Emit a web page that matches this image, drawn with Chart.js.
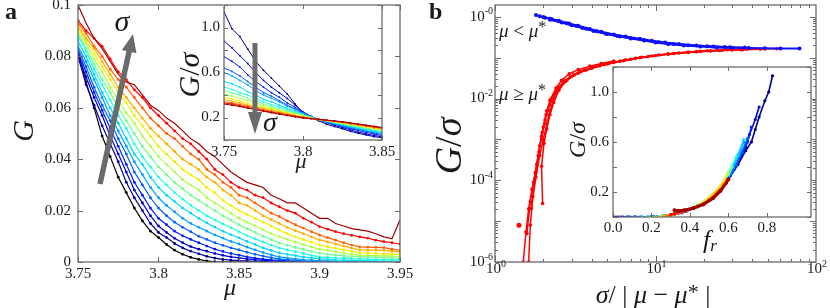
<!DOCTYPE html>
<html>
<head>
<meta charset="utf-8">
<script src="https://cdn.jsdelivr.net/npm/chart.js@4.4.1/dist/chart.umd.min.js"></script>
<style>
  html, body { margin: 0; padding: 0; background: #fff; }
  #fig { position: relative; width: 830px; height: 308px; overflow: hidden; background: #fff; }
  #fig canvas { position: absolute; }
</style>
</head>
<body>
<div id="fig">
  <canvas id="mainA" width="415" height="308" style="left:0;top:0"></canvas>
  <canvas id="mainB" width="415" height="308" style="left:415px;top:0"></canvas>
  <canvas id="insetA" width="235" height="175" style="left:170px;top:0"></canvas>
  <canvas id="insetB" width="255" height="195" style="left:565px;top:60px"></canvas>
</div>
<script>
const SERIF = '"Liberation Serif", "Times New Roman", serif';
const FRAME = '#6a6a6a';
const INK = '#1a1a1a';

// ---- panel a: G vs mu, one curve per sigma (black = smallest sigma) ----
const muA = [3.75, 3.755, 3.76, 3.765, 3.77, 3.775, 3.78, 3.785, 3.79, 3.795, 3.8, 3.805, 3.81, 3.815, 3.82,
  3.825, 3.83, 3.835, 3.84, 3.845, 3.85, 3.855, 3.86, 3.865, 3.87, 3.875, 3.88, 3.885, 3.89, 3.895, 3.9,
  3.905, 3.91, 3.915, 3.92, 3.925, 3.93, 3.935, 3.94, 3.945, 3.95];
const gBlack = [0.082, 0.070, 0.060, 0.049, 0.041, 0.033, 0.027, 0.021, 0.016, 0.012, 0.0095, 0.0068, 0.0046, 0.003, 0.0018,
  0.001, 0.0004, 0.0001, 0, 0, 0, 0, 0, 0, 0, 0, 0, 0, 0, 0, 0, 0, 0, 0, 0, 0, 0, 0, 0, 0, 0];
const gS1 = [0.080, 0.069, 0.061, 0.053, 0.046, 0.039, 0.031, 0.025, 0.020, 0.015, 0.0115, 0.0095, 0.0072, 0.0055, 0.0042,
  0.0032, 0.0022, 0.0015, 0.001, 0.0007, 0.0005, 0.0004, 0.0003, 0.0002, 0.0001, 0.0001, 0, 0, 0, 0, 0, 0, 0, 0, 0, 0, 0, 0, 0, 0, 0];
const gS2 = [0.081, 0.072, 0.064, 0.057, 0.049, 0.042, 0.035, 0.028, 0.023, 0.018, 0.014, 0.0115, 0.0092, 0.0075, 0.006,
  0.005, 0.0042, 0.0033, 0.0026, 0.002, 0.0016, 0.0012, 0.0009, 0.0006, 0.0004, 0.0003, 0.0002, 0.0001, 0.0001, 0, 0,
  0, 0, 0, 0, 0, 0, 0, 0, 0, 0];
const gS3 = [0.082, 0.074, 0.066, 0.059, 0.052, 0.045, 0.038, 0.031, 0.026, 0.021, 0.017, 0.0145, 0.012, 0.0102, 0.0088,
  0.0075, 0.0062, 0.005, 0.0041, 0.0033, 0.0027, 0.002, 0.0015, 0.0011, 0.0008, 0.0006, 0.0004, 0.0003, 0.0002, 0.0001, 0.0001,
  0, 0, 0, 0, 0, 0, 0, 0, 0, 0];
const gS4 = [0.083, 0.076, 0.068, 0.061, 0.055, 0.048, 0.042, 0.035, 0.030, 0.025, 0.021, 0.018, 0.0155, 0.0135, 0.0118,
  0.010, 0.0088, 0.0075, 0.0065, 0.0055, 0.0047, 0.0038, 0.003, 0.0023, 0.0017, 0.0012, 0.0009, 0.0006, 0.0004, 0.0003, 0.0002,
  0.0001, 0.0001, 0, 0, 0, 0, 0, 0, 0, 0];
const gS5 = [0.084, 0.078, 0.071, 0.064, 0.057, 0.051, 0.045, 0.039, 0.034, 0.029, 0.025, 0.022, 0.0195, 0.017, 0.015,
  0.0135, 0.012, 0.0105, 0.0093, 0.008, 0.007, 0.0058, 0.0047, 0.0037, 0.0028, 0.002, 0.0016, 0.0012, 0.0009, 0.0007, 0.0005,
  0.0004, 0.0003, 0.0002, 0.0001, 0.0001, 0.0001, 0, 0, 0, 0];
const gS6 = [0.086, 0.080, 0.073, 0.066, 0.060, 0.054, 0.048, 0.042, 0.038, 0.033, 0.029, 0.026, 0.0235, 0.021, 0.019,
  0.017, 0.0152, 0.0136, 0.012, 0.0106, 0.0094, 0.008, 0.0068, 0.0055, 0.0045, 0.0035, 0.003, 0.0025, 0.002, 0.0016, 0.0012,
  0.001, 0.0008, 0.0007, 0.0006, 0.0005, 0.0004, 0.0004, 0.0003, 0.0003, 0.0003];
const gS7 = [0.088, 0.082, 0.075, 0.069, 0.063, 0.057, 0.052, 0.046, 0.041, 0.037, 0.033, 0.030, 0.027, 0.0245, 0.022,
  0.020, 0.018, 0.0163, 0.0148, 0.0133, 0.0118, 0.0103, 0.009, 0.0078, 0.0066, 0.0055, 0.0047, 0.004, 0.0033, 0.0026, 0.002,
  0.0018, 0.0016, 0.0015, 0.0013, 0.0012, 0.0011, 0.001, 0.0009, 0.0008, 0.0008];
const gS8 = [0.089, 0.083, 0.077, 0.071, 0.066, 0.060, 0.055, 0.050, 0.045, 0.041, 0.037, 0.034, 0.031, 0.0285, 0.026,
  0.024, 0.022, 0.020, 0.018, 0.0163, 0.0145, 0.013, 0.0115, 0.010, 0.0087, 0.0074, 0.0065, 0.0057, 0.0049, 0.0041, 0.0034,
  0.003, 0.0027, 0.0024, 0.0022, 0.002, 0.0019, 0.0018, 0.0017, 0.0016, 0.0015];
const gS9 = [0.090, 0.085, 0.079, 0.074, 0.068, 0.063, 0.058, 0.054, 0.049, 0.045, 0.041, 0.038, 0.035, 0.032, 0.030,
  0.028, 0.025, 0.023, 0.021, 0.019, 0.017, 0.0155, 0.014, 0.0125, 0.011, 0.0099, 0.0088, 0.0078, 0.0068, 0.0058, 0.005,
  0.0045, 0.004, 0.0035, 0.003, 0.0027, 0.0026, 0.0025, 0.0024, 0.0023, 0.0022];
const gS10 = [0.091, 0.086, 0.081, 0.076, 0.071, 0.066, 0.062, 0.057, 0.053, 0.049, 0.045, 0.042, 0.039, 0.036, 0.034,
  0.032, 0.029, 0.027, 0.024, 0.022, 0.020, 0.0185, 0.017, 0.0155, 0.014, 0.0125, 0.011, 0.0098, 0.0088, 0.0077, 0.0066,
  0.006, 0.0053, 0.0047, 0.0041, 0.0036, 0.0035, 0.0033, 0.0032, 0.0031, 0.003];
const gS11 = [0.092, 0.087, 0.083, 0.078, 0.073, 0.068, 0.064, 0.060, 0.056, 0.052, 0.049, 0.046, 0.043, 0.040, 0.038,
  0.036, 0.033, 0.031, 0.028, 0.026, 0.023, 0.022, 0.020, 0.018, 0.0165, 0.015, 0.0135, 0.0122, 0.011, 0.0098, 0.0086,
  0.0078, 0.007, 0.0062, 0.0054, 0.0047, 0.0046, 0.0046, 0.0045, 0.0042, 0.0039];
const gS12 = [0.093, 0.089, 0.084, 0.080, 0.075, 0.071, 0.068, 0.064, 0.060, 0.056, 0.053, 0.050, 0.048, 0.045, 0.042,
  0.040, 0.036, 0.034, 0.031, 0.029, 0.026, 0.025, 0.023, 0.021, 0.019, 0.0177, 0.016, 0.0145, 0.0132, 0.0118, 0.0105,
  0.0095, 0.0085, 0.0075, 0.0066, 0.0059, 0.0058, 0.0057, 0.0056, 0.005, 0.0045];
const gS13 = [0.094, 0.090, 0.087, 0.084, 0.079, 0.074, 0.071, 0.067, 0.064, 0.060, 0.057, 0.054, 0.051, 0.048, 0.046,
  0.043, 0.040, 0.036, 0.034, 0.031, 0.029, 0.028, 0.026, 0.025, 0.023, 0.0215, 0.020, 0.019, 0.017, 0.0155, 0.0138,
  0.0128, 0.0118, 0.011, 0.0104, 0.0098, 0.0093, 0.0085, 0.0079, 0.0075, 0.007];
const gS14 = [0.100, 0.093, 0.087, 0.083, 0.078, 0.073, 0.070, 0.069, 0.065, 0.061, 0.059, 0.056, 0.054, 0.051, 0.048,
  0.046, 0.043, 0.041, 0.038, 0.035, 0.033, 0.031, 0.030, 0.029, 0.026, 0.0246, 0.023, 0.023, 0.021, 0.019, 0.017,
  0.017, 0.015, 0.014, 0.013, 0.0125, 0.012, 0.011, 0.0098, 0.009, 0.0164];
const sigmaColors = ['#000090', '#0000d0', '#0020ff', '#0060ff', '#00a0ff', '#00d8ff', '#20ffe0',
  '#70ff90', '#b0ff50', '#f0f000', '#ffb000', '#ff6000', '#ff0000', '#a00000'];
const xTicksA = ['3.75', '3.8', '3.85', '3.9', '3.95'];
const yTicksA = ['0', '0.02', '0.04', '0.06', '0.08', '0.1'];

// ---- inset a: G/sigma vs mu ----
const muInsetA = [3.75, 3.755, 3.76, 3.765, 3.77, 3.775, 3.78, 3.785, 3.79, 3.795, 3.8, 3.805, 3.81, 3.815, 3.82,
  3.825, 3.83, 3.835, 3.84, 3.845, 3.85];
const gsS1 = [1.14, 0.99, 0.92, 0.81, 0.70, 0.62, 0.55, 0.48, 0.41, 0.32, 0.24, 0.20, 0.17, 0.14, 0.12, 0.10, 0.077, 0.06, 0.045, 0.03, 0.02];
const gsS2 = [0.88, 0.82, 0.75, 0.68, 0.60, 0.53, 0.47, 0.42, 0.37, 0.31, 0.25, 0.21, 0.18, 0.155, 0.13, 0.11, 0.09, 0.07, 0.055, 0.04, 0.03];
const gsS3 = [0.74, 0.70, 0.65, 0.58, 0.52, 0.47, 0.42, 0.38, 0.33, 0.29, 0.245, 0.21, 0.18, 0.16, 0.14, 0.12, 0.10, 0.085, 0.068, 0.053, 0.04];
const gsS4 = [0.64, 0.61, 0.57, 0.52, 0.47, 0.42, 0.39, 0.35, 0.31, 0.275, 0.24, 0.21, 0.18, 0.16, 0.142, 0.125, 0.108, 0.092, 0.077, 0.063, 0.05];
const gsS5 = [0.60, 0.57, 0.53, 0.49, 0.44, 0.40, 0.37, 0.34, 0.30, 0.27, 0.235, 0.205, 0.18, 0.163, 0.146, 0.13, 0.114, 0.099, 0.085, 0.071, 0.058];
const gsS6 = [0.52, 0.50, 0.47, 0.43, 0.40, 0.36, 0.34, 0.31, 0.28, 0.255, 0.23, 0.205, 0.182, 0.166, 0.15, 0.135, 0.12, 0.105, 0.092, 0.079, 0.066];
const gsS7 = [0.47, 0.45, 0.42, 0.40, 0.37, 0.34, 0.315, 0.295, 0.27, 0.245, 0.225, 0.2, 0.182, 0.168, 0.154, 0.14, 0.126, 0.113, 0.1, 0.087, 0.074];
const gsS8 = [0.44, 0.42, 0.40, 0.37, 0.345, 0.32, 0.30, 0.28, 0.26, 0.24, 0.22, 0.2, 0.183, 0.17, 0.157, 0.145, 0.132, 0.12, 0.107, 0.095, 0.082];
const gsS9 = [0.41, 0.39, 0.37, 0.35, 0.33, 0.305, 0.285, 0.265, 0.25, 0.232, 0.215, 0.198, 0.183, 0.171, 0.16, 0.148, 0.136, 0.124, 0.112, 0.1, 0.088];
const gsS10 = [0.38, 0.365, 0.345, 0.325, 0.31, 0.29, 0.275, 0.257, 0.24, 0.225, 0.21, 0.195, 0.183, 0.172, 0.162, 0.152, 0.14, 0.129, 0.117, 0.105, 0.094];
const gsS11 = [0.36, 0.345, 0.33, 0.31, 0.295, 0.28, 0.265, 0.25, 0.235, 0.22, 0.205, 0.193, 0.182, 0.173, 0.164, 0.155, 0.144, 0.133, 0.121, 0.11, 0.099];
const gsS12 = [0.34, 0.33, 0.315, 0.30, 0.285, 0.27, 0.255, 0.24, 0.226, 0.213, 0.20, 0.19, 0.182, 0.174, 0.166, 0.158, 0.148, 0.137, 0.126, 0.115, 0.104];
const gsS13 = [0.33, 0.32, 0.305, 0.29, 0.275, 0.26, 0.247, 0.235, 0.222, 0.21, 0.20, 0.191, 0.183, 0.175, 0.168, 0.16, 0.15, 0.139, 0.129, 0.118, 0.108];
const gsS14 = [0.32, 0.31, 0.297, 0.283, 0.27, 0.255, 0.243, 0.23, 0.218, 0.206, 0.195, 0.19, 0.184, 0.177, 0.17, 0.162, 0.152, 0.142, 0.132, 0.122, 0.112];
const xTicksInsetA = ['3.75', '3.8', '3.85'];
const yTicksInset = ['', '0.2', '', '0.6', '', '1.0', ''];

// ---- panel b: G/sigma vs sigma/|mu - mu*| (log-log), pairs [x, y] ----
const blueBand1 = [[1.8, 1.1], [1.9, 1.03], [2.05, 0.95], [2.25, 0.88], [2.5, 0.78], [2.8, 0.69], [3.2, 0.6], [3.7, 0.51],
  [4.3, 0.44], [5, 0.38], [6, 0.33], [7, 0.295], [8.5, 0.262], [10, 0.236], [12, 0.214], [15, 0.197], [19, 0.186],
  [24, 0.178], [30, 0.174], [38, 0.171], [48, 0.169], [60, 0.168], [79, 0.168]];
const blueBand2 = [[2.0, 0.98], [2.2, 0.9], [2.5, 0.8], [2.9, 0.68], [3.3, 0.6], [3.9, 0.5], [4.6, 0.43], [5.5, 0.37],
  [6.5, 0.33], [8, 0.29], [9.5, 0.26], [11.5, 0.235], [14, 0.215], [18, 0.198], [23, 0.188], [29, 0.18], [36, 0.176]];
const blueBand3 = [[2.2, 0.84], [2.6, 0.72], [3.0, 0.62], [3.5, 0.53], [4.1, 0.45], [4.9, 0.385], [5.8, 0.34], [7, 0.3],
  [8.5, 0.265], [10.5, 0.238], [13, 0.215], [16, 0.2], [21, 0.19], [27, 0.182]];
const redBand1 = [[1.5, 1e-6], [1.56, 5.4e-6], [1.62, 2e-5], [1.7, 6e-5], [1.78, 1.5e-4], [1.86, 4e-4], [1.95, 1.2e-3],
  [2.05, 3e-3], [2.2, 7e-3], [2.4, 0.014], [2.65, 0.024], [2.95, 0.034], [3.4, 0.046], [4, 0.057], [4.8, 0.068],
  [6, 0.082], [7.5, 0.096], [9.5, 0.11], [12, 0.124], [16, 0.137], [21, 0.147], [28, 0.155], [37, 0.16], [48, 0.163], [57, 0.165]];
const redBand2 = [[1.58, 5e-6], [1.66, 3e-5], [1.74, 9e-5], [1.82, 2.5e-4], [1.9, 7e-4], [2.0, 2e-3], [2.1, 5e-3],
  [2.25, 0.01], [2.45, 0.018], [2.7, 0.027], [3.1, 0.039], [3.6, 0.05], [4.3, 0.062], [5.2, 0.074], [6.5, 0.088],
  [8.2, 0.102], [10.5, 0.116], [14, 0.13], [19, 0.142], [26, 0.151], [35, 0.157]];
const redBand3 = [[1.68, 2e-5], [1.8, 1.2e-4], [1.9, 4e-4], [2.0, 1e-3], [2.1, 2.4e-3], [2.2, 5e-3], [2.35, 0.01],
  [2.55, 0.019], [2.8, 0.028], [3.3, 0.042], [4, 0.055], [5, 0.07], [6.3, 0.084], [8, 0.099], [10, 0.113], [13, 0.126],
  [18, 0.14], [25, 0.15], [34, 0.156], [45, 0.16]];
const redBand4 = [[1.98, 2.7e-5], [1.95, 2.2e-4], [2.02, 8e-4], [2.1, 1.8e-3], [2.2, 4e-3], [2.32, 8e-3], [2.5, 0.016],
  [2.75, 0.026], [3.1, 0.037], [3.7, 0.05], [4.5, 0.063], [5.5, 0.076], [7, 0.091], [9, 0.106], [12, 0.121], [16, 0.134],
  [22, 0.146], [30, 0.154]];
const redBand5 = [[1.62, 1e-6], [1.66, 8e-6], [1.72, 4e-5], [1.8, 1.6e-4], [1.88, 5e-4], [1.97, 1.5e-3], [2.08, 4e-3],
  [2.2, 9e-3], [2.4, 0.018], [2.6, 0.028], [2.9, 0.04], [3.3, 0.051], [3.9, 0.062], [4.6, 0.072], [5.5, 0.083]];
const redOutlier = [[1.41, 7.9e-6]];
const xDecadesB = [1, 10, 100];
const xExpB = ['0', '1', '2'];
const yDecadesB = [1e-6, 1e-4, 1e-2, 1];
const yExpB = ['-6', '-4', '-2', '-0'];

// ---- inset b: G/sigma vs f_r, pairs [f, G/sigma] ----
const frS1 = [[0.01, 0], [0.03, 0], [0.05, 0], [0.07, 0], [0.09, 0], [0.11, 0], [0.2, 0.003], [0.3, 0.015], [0.36, 0.035],
  [0.42, 0.07], [0.48, 0.12], [0.54, 0.19], [0.6, 0.3], [0.65, 0.42], [0.69, 0.53], [0.72, 0.6], [0.74, 0.7], [0.76, 0.8],
  [0.79, 0.93], [0.81, 1.0], [0.83, 1.13]];
const frS2 = [[0.02, 0], [0.05, 0], [0.08, 0], [0.11, 0], [0.14, 0], [0.25, 0.006], [0.32, 0.022], [0.38, 0.045],
  [0.44, 0.085], [0.5, 0.14], [0.56, 0.22], [0.61, 0.33], [0.66, 0.47], [0.69, 0.56], [0.71, 0.66], [0.74, 0.78], [0.76, 0.88]];
const frS3 = [[0.04, 0], [0.08, 0], [0.12, 0], [0.15, 0], [0.27, 0.01], [0.34, 0.03], [0.4, 0.06], [0.46, 0.1],
  [0.52, 0.16], [0.58, 0.26], [0.63, 0.38], [0.67, 0.5], [0.7, 0.6], [0.72, 0.72]];
const frS4 = [[0.08, 0], [0.12, 0], [0.15, 0], [0.18, 0], [0.28, 0.012], [0.35, 0.035], [0.42, 0.07], [0.48, 0.12],
  [0.54, 0.19], [0.6, 0.3], [0.64, 0.41], [0.67, 0.52], [0.7, 0.63]];
const frS5 = [[0.12, 0], [0.15, 0], [0.18, 0], [0.3, 0.018], [0.37, 0.045], [0.44, 0.085], [0.5, 0.14], [0.56, 0.23],
  [0.61, 0.35], [0.65, 0.48], [0.68, 0.6]];
const frS6 = [[0.15, 0], [0.18, 0], [0.2, 0], [0.3, 0.02], [0.37, 0.048], [0.44, 0.09], [0.5, 0.15], [0.56, 0.24],
  [0.61, 0.37], [0.65, 0.5], [0.68, 0.62]];
const frS7 = [[0.18, 0], [0.2, 0], [0.22, 0], [0.3, 0.02], [0.37, 0.05], [0.44, 0.095], [0.5, 0.155], [0.56, 0.25],
  [0.6, 0.35], [0.64, 0.48]];
const frS8 = [[0.2, 0], [0.22, 0], [0.24, 0.002], [0.31, 0.025], [0.38, 0.055], [0.45, 0.1], [0.51, 0.165], [0.56, 0.25],
  [0.6, 0.34], [0.62, 0.4]];
const frS9 = [[0.22, 0], [0.24, 0.002], [0.26, 0.004], [0.32, 0.028], [0.39, 0.06], [0.46, 0.11], [0.52, 0.18],
  [0.57, 0.27], [0.6, 0.36]];
const frS10 = [[0.24, 0.002], [0.26, 0.004], [0.28, 0.008], [0.34, 0.033], [0.4, 0.065], [0.46, 0.11], [0.52, 0.18],
  [0.57, 0.27], [0.59, 0.33]];
const frS11 = [[0.26, 0.005], [0.28, 0.008], [0.3, 0.014], [0.36, 0.04], [0.42, 0.072], [0.48, 0.12], [0.53, 0.19],
  [0.57, 0.26], [0.59, 0.3]];
const frS12 = [[0.28, 0.01], [0.3, 0.015], [0.32, 0.022], [0.38, 0.048], [0.44, 0.08], [0.5, 0.13], [0.54, 0.19], [0.58, 0.26]];
const frS13 = [[0.3, 0.02], [0.32, 0.028], [0.35, 0.04], [0.4, 0.06], [0.45, 0.09], [0.5, 0.135], [0.55, 0.2], [0.59, 0.27]];
const frS14 = [[0.32, 0.055], [0.34, 0.05], [0.37, 0.055], [0.42, 0.072], [0.47, 0.1], [0.52, 0.15], [0.56, 0.21], [0.6, 0.3]];
const xTicksInsetB = ['0.0', '0.2', '0.4', '0.6', '0.8'];

Chart.defaults.font.family = SERIF;
Chart.defaults.color = INK;
Chart.defaults.animation = false;

// ---------- drawing helpers ----------
// parts: [text, size, style, dy]
function put(ctx, parts, x, y, align) {
  ctx.save();
  ctx.textBaseline = 'middle';
  ctx.textAlign = 'left';
  ctx.fillStyle = INK;
  const fnt = p => `${p[2] || ''} ${p[1]}px ${SERIF}`;
  let w = 0;
  for (const p of parts) { ctx.font = fnt(p); w += ctx.measureText(p[0]).width; }
  let cx = align === 'center' ? x - w / 2 : align === 'right' ? x - w : x;
  for (const p of parts) {
    ctx.font = fnt(p);
    ctx.fillText(p[0], cx, y + (p[3] || 0));
    cx += ctx.measureText(p[0]).width;
  }
  ctx.restore();
}

function putUp(ctx, parts, x, y) {
  ctx.save();
  ctx.translate(x, y);
  ctx.rotate(-Math.PI / 2);
  put(ctx, parts, 0, 0, 'center');
  ctx.restore();
}

function frame(chart, xMarks, yMarks) {
  const {ctx, chartArea: a} = chart;
  const sx = chart.scales.x, sy = chart.scales.y;
  ctx.save();
  ctx.strokeStyle = FRAME;
  ctx.lineWidth = 1;
  ctx.beginPath();
  for (const [v, len] of xMarks) {
    const p = Math.round(sx.getPixelForValue(v)) + 0.5;
    ctx.moveTo(p, a.bottom); ctx.lineTo(p, a.bottom - len);
    ctx.moveTo(p, a.top); ctx.lineTo(p, a.top + len);
  }
  for (const [v, len] of yMarks) {
    const p = Math.round(sy.getPixelForValue(v)) + 0.5;
    ctx.moveTo(a.left, p); ctx.lineTo(a.left + len, p);
    ctx.moveTo(a.right, p); ctx.lineTo(a.right - len, p);
  }
  ctx.stroke();
  ctx.lineWidth = 1.3;
  ctx.strokeRect(a.left, a.top, a.right - a.left, a.bottom - a.top);
  ctx.restore();
}

function logMarks(lo, hi, min, max) {
  const out = [];
  for (let d = lo; d <= hi; d++) {
    for (let k = 1; k <= 9; k++) {
      const v = k * Math.pow(10, d);
      if (v >= min * 0.999 && v <= max * 1.001) out.push([v, k === 1 ? 6 : 3]);
    }
  }
  return out;
}

function arrow(ctx, x0, y0, x1, y1, w, hl, hw) {
  const L = Math.hypot(x1 - x0, y1 - y0);
  const ux = (x1 - x0) / L, uy = (y1 - y0) / L, nx = -uy, ny = ux;
  const bx = x1 - ux * hl, by = y1 - uy * hl;
  ctx.save();
  ctx.fillStyle = '#6b6b6b';
  ctx.beginPath();
  ctx.moveTo(x0 + nx * w / 2, y0 + ny * w / 2);
  ctx.lineTo(bx + nx * w / 2, by + ny * w / 2);
  ctx.lineTo(bx + nx * hw / 2, by + ny * hw / 2);
  ctx.lineTo(x1, y1);
  ctx.lineTo(bx - nx * hw / 2, by - ny * hw / 2);
  ctx.lineTo(bx - nx * w / 2, by - ny * w / 2);
  ctx.lineTo(x0 - nx * w / 2, y0 - ny * w / 2);
  ctx.closePath();
  ctx.fill();
  ctx.restore();
}

function curve(data, color, extra) {
  return Object.assign({
    data, borderColor: color, backgroundColor: color, borderWidth: 1.2,
    pointRadius: 1.4, pointBorderWidth: 0, pointHoverRadius: 0, tension: 0
  }, extra || {});
}
const xy = pairs => pairs.map(p => ({x: p[0], y: p[1]}));

const hidden = {display: false, drawTicks: false};
const tickFont = {family: SERIF, size: 15};
const whiteArea = {
  id: 'whiteArea',
  beforeDraw(chart) {
    const a = chart.chartArea;
    chart.ctx.save();
    chart.ctx.fillStyle = '#fff';
    chart.ctx.fillRect(a.left - 1, a.top - 1, a.right - a.left + 2, a.bottom - a.top + 2);
    chart.ctx.restore();
  }
};

// ---------- panel a ----------
const curvesA = [gS14, gS13, gS12, gS11, gS10, gS9, gS8, gS7, gS6, gS5, gS4, gS3, gS2, gS1];
new Chart(document.getElementById('mainA'), {
  type: 'line',
  data: {
    labels: muA,
    datasets: curvesA.map((g, i) => curve(g, sigmaColors[13 - i], i === 0 ? {pointRadius: 0} : {}))
      .concat([curve(gBlack, '#000000')])
  },
  options: {
    responsive: false,
    layout: {padding: {left: 0, top: 5, right: 15, bottom: 0}},
    plugins: {legend: {display: false}, tooltip: {enabled: false}},
    scales: {
      x: {
        type: 'linear', min: 3.75, max: 3.95, grid: hidden, border: {display: false},
        ticks: {stepSize: 0.05, padding: 3, autoSkip: false, maxRotation: 0, font: tickFont, color: INK,
          callback: v => xTicksA[Math.round((v - 3.75) / 0.05)] ?? ''},
        afterFit: s => { s.height = 46; s.paddingLeft = 0; s.paddingRight = 0; }
      },
      y: {
        min: 0, max: 0.1, grid: hidden, border: {display: false},
        ticks: {stepSize: 0.02, padding: 7, autoSkip: false, font: tickFont, color: INK,
          callback: v => yTicksA[Math.round(v / 0.02)] ?? ''},
        afterFit: s => { s.width = 78; s.paddingTop = 0; s.paddingBottom = 0; }
      }
    }
  },
  plugins: [{
    id: 'decorA',
    afterDraw(chart) {
      const ctx = chart.ctx;
      frame(chart, chart.scales.x.ticks.map(t => [t.value, 5]), chart.scales.y.ticks.map(t => [t.value, 5]));
      put(ctx, [['a', 24, 'bold']], 5, 13, 'left');
      putUp(ctx, [['G', 30, 'italic']], 25, 131);
      put(ctx, [['μ', 24, 'italic']], 230, 289, 'center');
      arrow(ctx, 100, 184, 133, 34, 5.5, 18, 15);
      put(ctx, [['σ', 30, 'italic']], 122, 23, 'center');
    }
  }]
});

// ---------- inset a ----------
const curvesInsetA = [gsS14, gsS13, gsS12, gsS11, gsS10, gsS9, gsS8, gsS7, gsS6, gsS5, gsS4, gsS3, gsS2, gsS1];
new Chart(document.getElementById('insetA'), {
  type: 'line',
  data: {
    labels: muInsetA,
    datasets: curvesInsetA.map((g, i) => curve(g, sigmaColors[13 - i], {borderWidth: 1, pointRadius: 0.9}))
  },
  options: {
    responsive: false,
    layout: {padding: {left: 0, top: 5, right: 23, bottom: 0}},
    plugins: {legend: {display: false}, tooltip: {enabled: false}},
    scales: {
      x: {
        type: 'linear', min: 3.75, max: 3.85, grid: hidden, border: {display: false},
        ticks: {stepSize: 0.05, padding: 3, autoSkip: false, maxRotation: 0, font: tickFont, color: INK,
          callback: v => xTicksInsetA[Math.round((v - 3.75) / 0.05)] ?? ''},
        afterFit: s => { s.height = 35; s.paddingLeft = 0; s.paddingRight = 0; }
      },
      y: {
        min: 0, max: 1.2, grid: hidden, border: {display: false},
        ticks: {stepSize: 0.2, padding: 4, autoSkip: false, font: tickFont, color: INK,
          callback: v => yTicksInset[Math.round(v / 0.2)] ?? ''},
        afterFit: s => { s.width = 54; s.paddingTop = 0; s.paddingBottom = 0; }
      }
    }
  },
  plugins: [whiteArea, {
    id: 'decorInsetA',
    afterDraw(chart) {
      const ctx = chart.ctx;
      frame(chart, chart.scales.x.ticks.map(t => [t.value, 4]), chart.scales.y.ticks.map(t => [t.value, 4]));
      putUp(ctx, [['G', 30, 'italic'], ['/', 30, ''], ['σ', 30, 'italic']], 21, 75);
      put(ctx, [['μ', 22, 'italic']], 131, 162, 'center');
      arrow(ctx, 85, 43, 85, 134, 5, 22, 14);
      put(ctx, [['σ', 28, 'italic']], 100, 124, 'center');
    }
  }]
});

// ---------- panel b ----------
const redStyle = {borderWidth: 1.5, pointRadius: 1.8};
new Chart(document.getElementById('mainB'), {
  type: 'line',
  data: {
    datasets: [
      curve(xy(blueBand1), '#1010ff', {borderWidth: 2, pointRadius: 2}),
      curve(xy(blueBand2), '#1010ff', {borderWidth: 2, pointRadius: 2}),
      curve(xy(blueBand3), '#1010ff', {borderWidth: 2, pointRadius: 2}),
      curve(xy(redBand1), '#ff0000', redStyle),
      curve(xy(redBand2), '#ff0000', redStyle),
      curve(xy(redBand3), '#ff0000', redStyle),
      curve(xy(redBand4), '#ff0000', redStyle),
      curve(xy(redBand5), '#ff0000', redStyle),
      curve(xy(redOutlier), '#ff0000', {showLine: false, pointRadius: 2.5})
    ]
  },
  options: {
    responsive: false,
    layout: {padding: {left: 0, top: 5, right: 14, bottom: 0}},
    plugins: {legend: {display: false}, tooltip: {enabled: false}},
    scales: {
      x: {
        type: 'logarithmic', min: 1, max: 100, grid: hidden, border: {display: false},
        ticks: {display: false},
        afterFit: s => { s.height = 46; s.paddingLeft = 0; s.paddingRight = 0; }
      },
      y: {
        type: 'logarithmic', min: 1e-6, max: 1.94, grid: hidden, border: {display: false},
        ticks: {display: false},
        afterFit: s => { s.width = 80; s.paddingTop = 0; s.paddingBottom = 0; }
      }
    }
  },
  plugins: [{
    id: 'decorB',
    afterDraw(chart) {
      const ctx = chart.ctx;
      const sx = chart.scales.x, sy = chart.scales.y, a = chart.chartArea;
      frame(chart, logMarks(0, 1, 1, 100), logMarks(-6, 0, 1e-6, 1.94));
      yDecadesB.forEach((v, i) => {
        put(ctx, [['10', 15, ''], [yExpB[i], 10, '', -5]], a.left - 2, sy.getPixelForValue(v), 'right');
      });
      xDecadesB.forEach((v, i) => {
        put(ctx, [['10', 15, ''], [xExpB[i], 10, '', -5]], sx.getPixelForValue(v) + 1, 269, 'center');
      });
      put(ctx, [['b', 24, 'bold']], 14, 13, 'left');
      putUp(ctx, [['G', 38, 'italic'], ['/', 38, ''], ['σ', 38, 'italic']], 36, 146);
      put(ctx, [['σ', 26, 'italic'], ['/ | ', 26, ''], ['μ', 26, 'italic'], [' − ', 26, ''], ['μ', 26, 'italic'],
        ['*', 22, '', -3], [' |', 26, '']], 238, 296, 'center');
      put(ctx, [['μ', 19, 'italic'], [' < ', 19, ''], ['μ', 19, 'italic'], ['*', 16, '', -4]], 84, 32, 'left');
      put(ctx, [['μ', 19, 'italic'], [' ≥ ', 19, ''], ['μ', 19, 'italic'], ['*', 16, '', -4]], 84, 95, 'left');
    }
  }]
});

// ---------- inset b ----------
const curvesInsetB = [frS14, frS13, frS12, frS11, frS10, frS9, frS8, frS7, frS6, frS5, frS4, frS3, frS2, frS1];
new Chart(document.getElementById('insetB'), {
  type: 'line',
  data: {
    datasets: curvesInsetB.map((c, i) => curve(xy(c), sigmaColors[13 - i],
      i === 0 ? {borderWidth: 3, pointRadius: 2} : {borderWidth: 1.6, pointRadius: 1.6}))
  },
  options: {
    responsive: false,
    layout: {padding: {left: 0, top: 7, right: 9, bottom: 0}},
    plugins: {legend: {display: false}, tooltip: {enabled: false}},
    scales: {
      x: {
        type: 'linear', min: 0, max: 1.03, grid: hidden, border: {display: false},
        ticks: {stepSize: 0.2, padding: 2, autoSkip: false, maxRotation: 0, font: tickFont, color: INK,
          callback: v => Math.abs(v / 0.2 - Math.round(v / 0.2)) < 1e-6 ? (xTicksInsetB[Math.round(v / 0.2)] ?? '') : ''},
        afterFit: s => { s.height = 38; s.paddingLeft = 0; s.paddingRight = 0; }
      },
      y: {
        min: 0, max: 1.2, grid: hidden, border: {display: false},
        ticks: {stepSize: 0.2, padding: 4, autoSkip: false, font: tickFont, color: INK,
          callback: v => yTicksInset[Math.round(v / 0.2)] ?? ''},
        afterFit: s => { s.width = 48; s.paddingTop = 0; s.paddingBottom = 0; }
      }
    }
  },
  plugins: [whiteArea, {
    id: 'decorInsetB',
    afterDraw(chart) {
      const ctx = chart.ctx;
      const xm = chart.scales.x.ticks.filter(t => t.value <= 1.0001).map(t => [t.value, 4]);
      frame(chart, xm, chart.scales.y.ticks.map(t => [t.value, 4]));
      putUp(ctx, [['G', 24, 'italic'], ['/', 24, ''], ['σ', 24, 'italic']], 14, 80);
      put(ctx, [['f', 26, 'italic'], ['r', 17, 'italic', 6]], 145, 181, 'center');
    }
  }]
});
</script>
</body>
</html>
